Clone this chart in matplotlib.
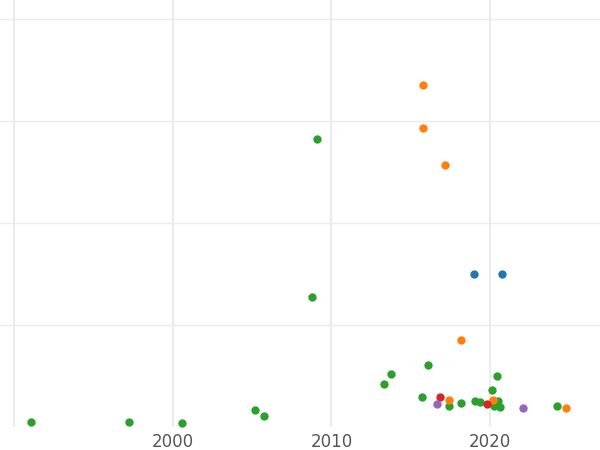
import matplotlib.pyplot as plt

green_x = [1991.06, 1997.24, 2000.58, 2005.19, 2005.76, 2008.78, 2009.1, 2013.33, 2013.77, 2015.72,
           2016.1, 2017.43, 2018.19, 2019.07, 2019.38, 2020.14, 2020.27, 2020.46, 2020.52, 2020.65, 2024.24]
green_y = [4.9, 4.9, 3.9, 16.7, 10.8, 127.5, 282.4, 42.2, 52.0, 29.4,
           60.8, 20.6, 23.5, 25.5, 24.5, 36.3, 20.6, 50.0, 25.5, 19.6, 20.6]
orange_x = [2015.79, 2015.79, 2017.18, 2018.19, 2017.43, 2020.2, 2024.81]
orange_y = [335.3, 293.1, 256.9, 85.3, 26.5, 26.5, 18.6]
blue_x = [2019.0, 2020.77]
blue_y = [150.0, 150.0]
red_x = [2016.86, 2019.83]
red_y = [29.4, 22.5]
purple_x = [2016.67, 2022.1]
purple_y = [22.5, 18.6]

fig = plt.figure(figsize=(6, 4.5), dpi=100)
ax = fig.add_axes([0, 23 / 450, 1, 427 / 450])

for xs, ys, c in [(green_x, green_y, '#2ca02c'), (orange_x, orange_y, '#ff7f0e'),
                  (blue_x, blue_y, '#1f77b4'), (red_x, red_y, '#d62728'),
                  (purple_x, purple_y, '#9467bd')]:
    ax.scatter(xs, ys, s=36, color=c, zorder=3, linewidths=0)

ax.set_xlim(1989.09, 2026.95)
ax.set_ylim(0, 418.6)
ax.set_xticks([1990, 2000, 2010, 2020])
ax.set_xticklabels(['', '2000', '2010', '2020'])
ax.set_yticks([100, 200, 300, 400])
ax.set_yticklabels([])
ax.grid(True, color='#ebebeb', linewidth=1)
for g in ax.get_xgridlines():
    g.set_linewidth(1.5)
ax.tick_params(length=0, labelsize=12, labelcolor='#555555', pad=4)
for s in ax.spines.values():
    s.set_visible(False)

fig.savefig('out.png')
